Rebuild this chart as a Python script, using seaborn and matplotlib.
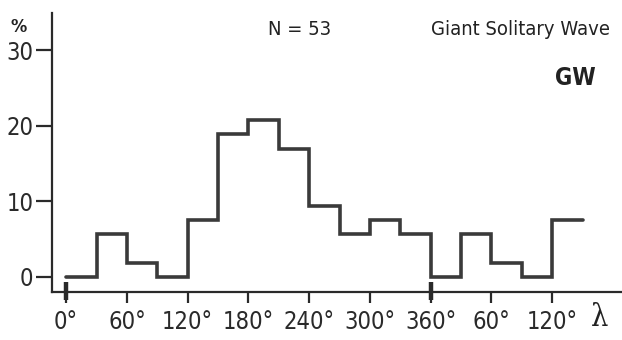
import matplotlib
matplotlib.use("Agg")
import matplotlib.pyplot as plt
import seaborn as sns
import pandas as pd

# Data: 30-degree longitude bins (second cycle repeats 0..150 after 360)
bin_starts = [0, 30, 60, 90, 120, 150, 180, 210, 240, 270, 300, 330,
              360, 390, 420, 450, 480]
percent = [0, 5.7, 1.9, 0, 7.5, 18.9, 20.8, 17.0, 9.4, 5.7, 7.5, 5.7,
           0, 5.7, 1.9, 0, 7.5]
bin_width = 30
tick_positions = [0, 60, 120, 180, 240, 300, 360, 420, 480]
tick_labels = ["0°", "60°", "120°", "180°", "240°", "300°", "360°", "60°", "120°"]
y_ticks = [0, 10, 20, 30]

sns.set_style("ticks")
FAM = ["DejaVu Sans"]
plt.rcParams["font.family"] = FAM
plt.rcParams["font.stretch"] = "condensed"

df = pd.DataFrame({
    "lam": bin_starts + [bin_starts[-1] + bin_width],
    "pct": percent + [percent[-1]],
})

fig = plt.figure(figsize=(6.22, 3.40), dpi=100)
ax = fig.add_axes([52 / 622, 48 / 340, 570 / 622, 279.4 / 340])

line_col = "#3a3a3a"
sns.lineplot(data=df, x="lam", y="pct", drawstyle="steps-post", ax=ax,
             color=line_col, linewidth=2.6, solid_joinstyle="miter")

ax.set_xlim(-14, 549)
ax.set_ylim(-2, 35)

for s in ["top", "right"]:
    ax.spines[s].set_visible(False)
for s in ["left", "bottom"]:
    ax.spines[s].set_linewidth(1.6)
    ax.spines[s].set_color("#2a2a2a")

ax.set_xticks(tick_positions)
ax.set_xticklabels(tick_labels, fontstretch="condensed")
ax.set_yticks(y_ticks)
ax.set_yticklabels([str(v) for v in y_ticks], fontstretch="condensed")
ax.tick_params(axis="x", direction="out", length=8, width=1.6, pad=5,
               labelsize=17, colors="#2a2a2a")
ax.tick_params(axis="y", direction="out", length=11.5, width=1.6, pad=2,
               labelsize=17, colors="#2a2a2a")
ax.set_xlabel("")
ax.set_ylabel("")

# Thick cycle markers at 0 and 360
for xv in [0, 360]:
    ax.plot([xv, xv], [-0.7, -3.1], color="#2a2a2a", linewidth=3.2,
            clip_on=False, solid_capstyle="butt")

ax.text(-0.058, 0.95, "%", transform=ax.transAxes, fontsize=13,
        fontweight="bold", color="#222222", ha="center", va="center",
        fontstretch="condensed")
ax.text(231, 32.7, "N = 53", fontsize=14.5, color="#222222",
        ha="center", va="center", fontstretch="condensed")
ax.text(537, 32.7, "Giant Solitary Wave", fontsize=14.5, color="#222222",
        ha="right", va="center", fontstretch="condensed")
ax.text(503, 26.4, "GW", fontsize=17, fontweight="bold", color="#222222",
        ha="center", va="center", fontstretch="condensed")
ax.text(527, -5.4, "λ", fontsize=22, color="#222222", ha="center",
        va="center", clip_on=False, family=["DejaVu Serif"])

fig.savefig("out.png", dpi=100)
